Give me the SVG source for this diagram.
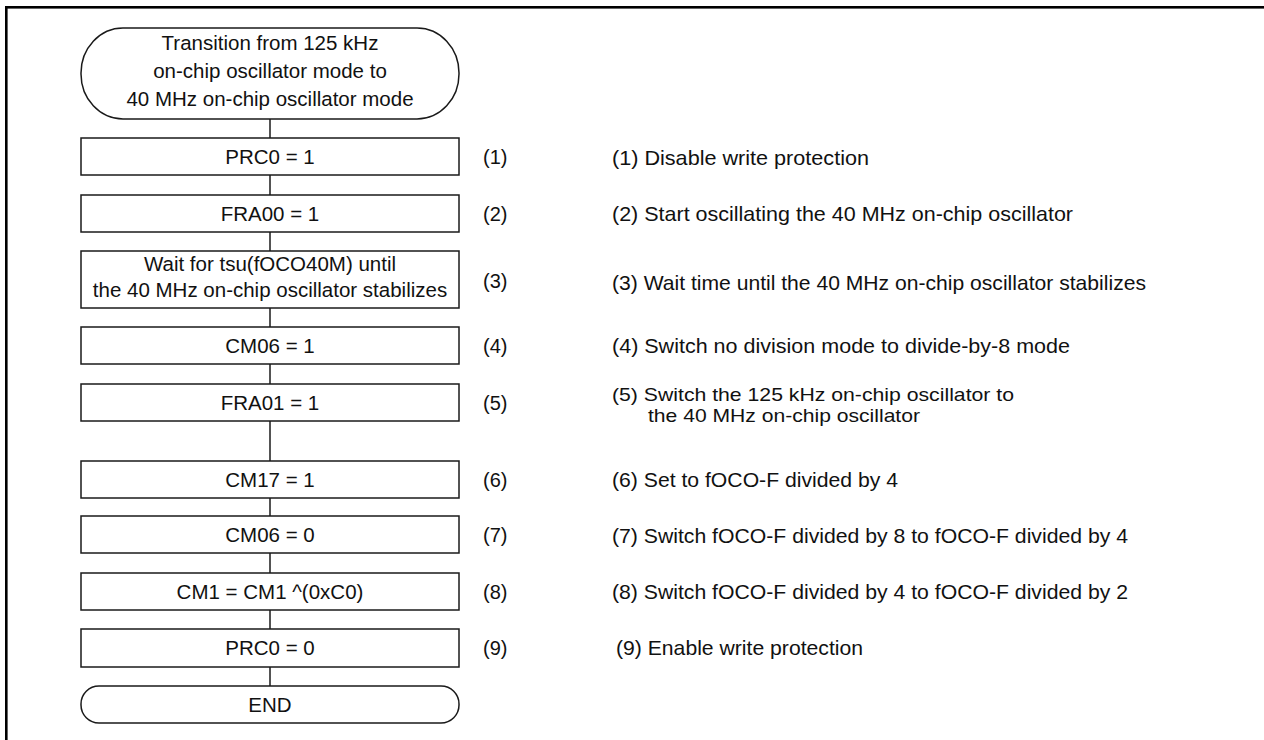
<svg xmlns="http://www.w3.org/2000/svg" width="1264" height="740" viewBox="0 0 1264 740">
<style>
.box{fill:#fff;stroke:#1a1a1a;stroke-width:1.5}
.ln{stroke:#1a1a1a;stroke-width:1.5;fill:none}
.t{font-family:"Liberation Sans",Arial,sans-serif;font-size:20.5px;fill:#111;text-anchor:middle}
.n{font-family:"Liberation Sans",Arial,sans-serif;font-size:20px;fill:#111}
.d{font-family:"Liberation Sans",Arial,sans-serif;font-size:21px;fill:#111}
.d5{font-family:"Liberation Sans",Arial,sans-serif;font-size:18.5px;fill:#111}
</style>
<rect x="0" y="0" width="1264" height="740" fill="#fff"/>
<rect x="5" y="6" width="1259" height="2.6" fill="#000"/>
<rect x="5" y="6" width="2.6" height="734" fill="#000"/>
<g id="connectors">
<line class="ln" x1="270" y1="119" x2="270" y2="686"/>
</g>
<g id="start">
<rect class="box" x="81" y="28" width="378" height="91" rx="42" ry="45"/>
<text class="t" x="270" y="50">Transition from 125 kHz</text>
<text class="t" x="270" y="78">on-chip oscillator mode to</text>
<text class="t" x="270" y="106">40 MHz on-chip oscillator mode</text>
</g>
<g id="step1">
<rect class="box" x="81" y="138" width="378" height="37"/>
<text class="t" x="270" y="163.5">PRC0 = 1</text>
<text class="n" x="483" y="163.5">(1)</text>
</g>
<g id="step2">
<rect class="box" x="81" y="195" width="378" height="37"/>
<text class="t" x="270" y="220.5">FRA00 = 1</text>
<text class="n" x="483" y="220.5">(2)</text>
</g>
<g id="step3">
<rect class="box" x="81" y="251" width="378" height="57"/>
<text class="t" x="270" y="271">Wait for tsu(fOCO40M) until</text>
<text class="t" x="270" y="297">the 40 MHz on-chip oscillator stabilizes</text>
<text class="n" x="483" y="288">(3)</text>
</g>
<g id="step4">
<rect class="box" x="81" y="327" width="378" height="37"/>
<text class="t" x="270" y="352.5">CM06 = 1</text>
<text class="n" x="483" y="352.5">(4)</text>
</g>
<g id="step5">
<rect class="box" x="81" y="384" width="378" height="37"/>
<text class="t" x="270" y="409.5">FRA01 = 1</text>
<text class="n" x="483" y="409.5">(5)</text>
</g>
<g id="step6">
<rect class="box" x="81" y="461" width="378" height="37"/>
<text class="t" x="270" y="486.5">CM17 = 1</text>
<text class="n" x="483" y="486.5">(6)</text>
</g>
<g id="step7">
<rect class="box" x="81" y="516" width="378" height="37"/>
<text class="t" x="270" y="541.5">CM06 = 0</text>
<text class="n" x="483" y="541.5">(7)</text>
</g>
<g id="step8">
<rect class="box" x="81" y="573" width="378" height="37"/>
<text class="t" x="270" y="598.5">CM1 = CM1 ^(0xC0)</text>
<text class="n" x="483" y="598.5">(8)</text>
</g>
<g id="step9">
<rect class="box" x="81" y="629" width="378" height="38"/>
<text class="t" x="270" y="655">PRC0 = 0</text>
<text class="n" x="483" y="655">(9)</text>
</g>
<g id="end">
<rect class="box" x="81" y="686" width="378" height="37" rx="18" ry="18"/>
<text class="t" x="270" y="711.5">END</text>
</g>
<g id="descriptions">
<text class="d" x="612" y="164.5" textLength="257" lengthAdjust="spacingAndGlyphs">(1)  Disable write protection</text>
<text class="d" x="612" y="220.5" textLength="461" lengthAdjust="spacingAndGlyphs">(2)  Start oscillating the 40 MHz on-chip oscillator</text>
<text class="d" x="612" y="289.5" textLength="534" lengthAdjust="spacingAndGlyphs">(3)  Wait time until the 40 MHz on-chip oscillator stabilizes</text>
<text class="d" x="612" y="352.5" textLength="458" lengthAdjust="spacingAndGlyphs">(4)  Switch no division mode to divide-by-8 mode</text>
<text class="d5" x="612" y="401" textLength="402" lengthAdjust="spacingAndGlyphs">(5) Switch the 125 kHz on-chip oscillator to</text>
<text class="d5" x="648" y="422" textLength="272" lengthAdjust="spacingAndGlyphs">the 40 MHz on-chip oscillator</text>
<text class="d" x="612" y="486.5" textLength="286" lengthAdjust="spacingAndGlyphs">(6) Set to fOCO-F divided by 4</text>
<text class="d" x="612" y="542.5" textLength="516" lengthAdjust="spacingAndGlyphs">(7) Switch fOCO-F divided by 8 to fOCO-F divided by 4</text>
<text class="d" x="612" y="598.5" textLength="516" lengthAdjust="spacingAndGlyphs">(8) Switch fOCO-F divided by 4 to fOCO-F divided by 2</text>
<text class="d" x="616" y="655" textLength="247" lengthAdjust="spacingAndGlyphs">(9) Enable write protection</text>
</g>
</svg>
